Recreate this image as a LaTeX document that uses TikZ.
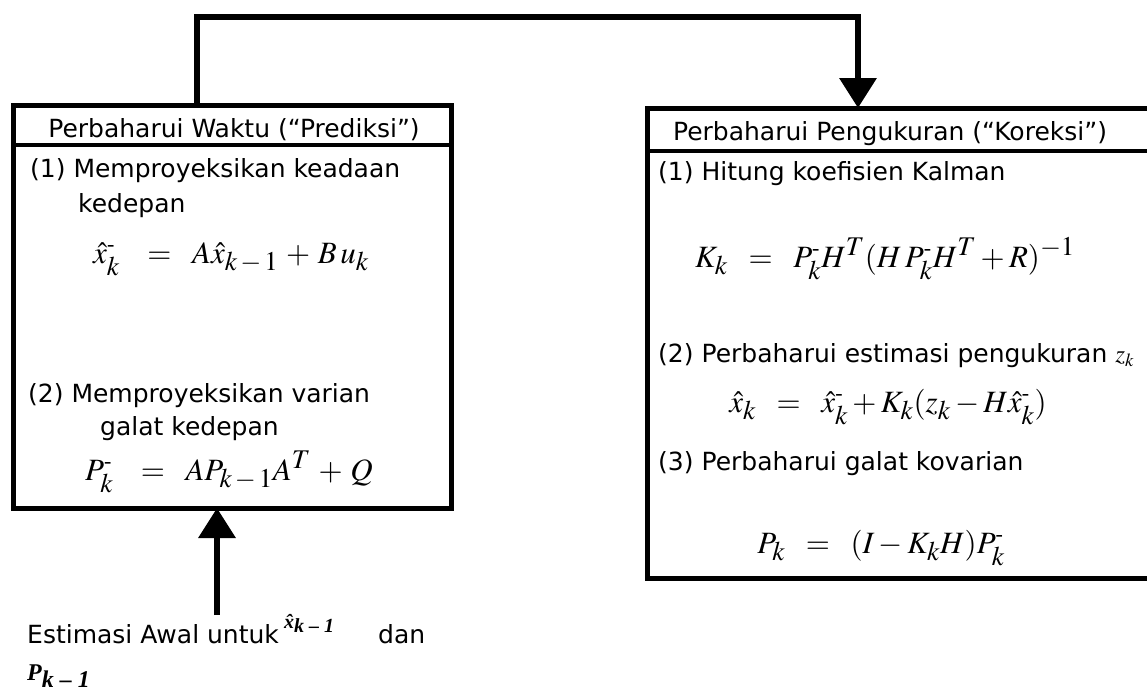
\documentclass[tikz,border=0pt]{standalone}
\usepackage{mathptmx}
\usepackage[no-math]{fontspec}
\setmainfont{DejaVu Sans}
\newfontfamily\tnr{Liberation Serif}
\usetikzlibrary{arrows.meta,calc}
\DeclareMathSizes{31}{31}{27}{20}
\newcommand{\mm}{^{\hbox{\fontsize{22}{22}\selectfont\tnr -}}}
\begin{document}
\begin{tikzpicture}[x=1pt,y=-1pt,
  boxst/.style={draw, line width=5pt, inner sep=0pt, outer sep=0pt, anchor=north west},
  divider/.style={line width=4pt},
  conn/.style={line width=6.5pt, line join=miter, -{Triangle[width=36pt,length=30pt]}},
  txt/.style={anchor=base west, inner sep=0pt, font=\fontsize{25}{30}\selectfont},
  head/.style={anchor=base, inner sep=0pt, font=\fontsize{25}{30}\selectfont},
  eq/.style={anchor=base, inner sep=0pt, font=\fontsize{31}{34}\selectfont}]
\useasboundingbox (0,0) rectangle (1147,697);
\clip (0,0) rectangle (1147,697);
\fill[white] (0,0) rectangle (1147,697);
% left box
\node[boxst, minimum width=438pt, minimum height=403pt] (lbox) at (13,105) {};
\draw[divider] ([yshift=-40pt]lbox.north west) -- ([yshift=-40pt]lbox.north east);
\node[head] (lhead) at (234,137) {Perbaharui Waktu (“Prediksi”)};
\node[txt] (l1) at (30,177) {(1) Memproyeksikan keadaan};
\node[txt] (l1b) at (78,212) {kedepan};
\node[eq] (leq1) at (231,263) {$\hat{x}_k\mm \;\;\;=\;\; A\hat{x}_{k\,-\,1} \,+\, B\,u_k$};
\node[txt] (l2) at (28,402) {(2) Memproyeksikan varian};
\node[txt] (l2b) at (100,435) {galat kedepan};
\node[eq] (leq2) at (229,480) {$P_k\mm \;\;\;=\;\; AP_{k\,-\,1}A^T \,+\, Q$};
% right box
\node[boxst, minimum width=513pt, minimum height=470pt] (rbox) at (647,108) {};
\draw[divider] ([yshift=-43pt]rbox.north west) -- ([yshift=-43pt]rbox.north east);
\node[head] (rhead) at (890,140) {Perbaharui Pengukuran (“Koreksi”)};
\node[txt] (r1) at (658,180) {(1) Hitung koefisien Kalman};
\node[eq] (req1) at (885,267) {$K_k \;\;=\;\; P_k\mm H^T (H\,P_k\mm H^T + R)^{-1}$};
\node[txt] (r2) at (658,362) {(2) Perbaharui estimasi pengukuran $z_k$};
\node[eq] (req2) at (888,412) {$\hat{x}_k \;\;=\;\; \hat{x}_k\mm + K_k(z_k - H\hat{x}_k\mm)$};
\node[txt] (r3) at (658,470) {(3) Perbaharui galat kovarian};
\node[eq] (req3) at (881,553) {$P_k \;\;=\;\; (I - K_kH)P_k\mm$};
% initial estimate
\node[txt] (b1) at (27,643) {Estimasi Awal untuk};
\node[anchor=base west, inner sep=0pt, font=\fontsize{20}{22}\selectfont\tnr\bfseries\itshape] (bx) at (284,628) {\^{x}\raisebox{-4pt}{k – 1}};
\node[txt] (b2) at (378,643) {dan};
\node[anchor=base west, inner sep=0pt, font=\fontsize{24}{26}\selectfont\tnr\bfseries\itshape] (bp) at (27,680) {P\raisebox{-7pt}{k – 1}};
% connectors
\coordinate (arrstart) at (217,615);
\draw[conn] (arrstart) -- (arrstart |- lbox.south);
\draw[conn] ([xshift=-35pt]lbox.north) -- ++(0,-88) -| ([xshift=-45.5pt]rbox.north);
\end{tikzpicture}
\end{document}
